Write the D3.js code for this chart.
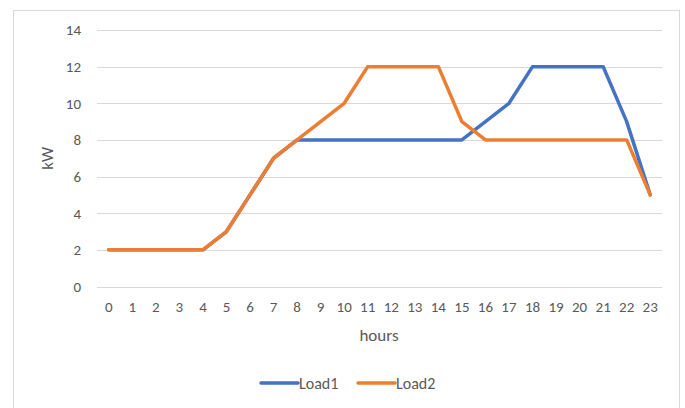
<!DOCTYPE html>
<html>
<head>
<meta charset="utf-8">
<script src="https://cdn.jsdelivr.net/npm/d3@7"></script>
<style>
  body { margin: 0; background: #fff; }
  text { font-family: Calibri, Carlito, "Noto Sans", sans-serif; fill: #595959; }
</style>
</head>
<body>
<div id="container"></div>
<script>
/* DATA */
const hours = d3.range(0, 24).map(String);
const load1 = [2, 2, 2, 2, 2, 3, 5, 7, 8, 8, 8, 8, 8, 8, 8, 8, 9, 10, 12, 12, 12, 12, 9, 5];
const load2 = [2, 2, 2, 2, 2, 3, 5, 7, 8, 9, 10, 12, 12, 12, 12, 9, 8, 8, 8, 8, 8, 8, 8, 5];
const yTicks = [0, 2, 4, 6, 8, 10, 12, 14];
const seriesNames = ["Load1", "Load2"];
const colors = ["#4472C4", "#ED7D31"];

/* CONSTANTS */
const width = 685, height = 408;
const margin = {top: 30, bottom: 122, left: 97, right: 23};
const fontFam = "Calibri, Carlito, 'Noto Sans', sans-serif";

const svg = d3.select("#container")
  .append("svg")
  .attr("width", width)
  .attr("height", height);

// chart frame
svg.append("rect")
  .attr("x", 13.5).attr("y", 10.5)
  .attr("width", 666).attr("height", 410)
  .attr("fill", "#fff")
  .attr("stroke", "#D9D9D9");

const xScale = d3.scaleBand()
  .domain(hours)
  .range([margin.left, width - margin.right]);

const yScale = d3.scaleLinear()
  .domain([0, 14])
  .range([286.5, margin.top]);

// gridlines
svg.append("g")
  .selectAll("line")
  .data(yTicks)
  .join("line")
  .attr("x1", margin.left)
  .attr("x2", width - margin.right)
  .attr("y1", d => Math.round(yScale(d)) + 0.5)
  .attr("y2", d => Math.round(yScale(d)) + 0.5)
  .attr("stroke", "#D9D9D9")
  .attr("stroke-width", 1);

// y axis labels
const yAxis = d3.axisLeft(yScale).tickValues(yTicks).tickSize(0).tickPadding(16);
svg.append("g")
  .attr("transform", `translate(${margin.left},0)`)
  .call(yAxis)
  .call(g => g.select(".domain").remove())
  .selectAll("text")
  .style("font-size", "15px")
  .attr("fill", "#595959")
  .style("font-family", fontFam);

// x axis labels
const xAxis = d3.axisBottom(xScale).tickSize(0).tickPadding(15);
svg.append("g")
  .attr("transform", `translate(0,${yScale(0)})`)
  .call(xAxis)
  .call(g => g.select(".domain").remove())
  .selectAll("text")
  .style("font-size", "15px")
  .attr("fill", "#595959")
  .style("font-family", fontFam);

// axis titles
svg.append("text")
  .attr("x", 379)
  .attr("y", 341)
  .attr("text-anchor", "middle")
  .style("font-size", "17px")
  .text("hours");

svg.append("text")
  .attr("transform", `translate(53,${(yScale(0) + yScale(14)) / 2}) rotate(-90)`)
  .attr("text-anchor", "middle")
  .style("font-size", "17px")
  .text("kW");

// lines
const line = d3.line()
  .x((d, i) => xScale(hours[i]) + xScale.bandwidth() / 2)
  .y(d => yScale(d));

[load1, load2].forEach((vals, i) => {
  svg.append("path")
    .datum(vals)
    .attr("fill", "none")
    .attr("stroke", colors[i])
    .attr("stroke-width", 3.5)
    .attr("stroke-linejoin", "round")
    .attr("stroke-linecap", "round")
    .attr("d", line);
});

// legend
const legend = svg.append("g");
const legendX = [261, 358];
seriesNames.forEach((name, i) => {
  legend.append("line")
    .attr("x1", legendX[i]).attr("x2", legendX[i] + 37)
    .attr("y1", 383).attr("y2", 383)
    .attr("stroke", colors[i])
    .attr("stroke-width", 3.5)
    .attr("stroke-linecap", "round");
  legend.append("text")
    .attr("x", legendX[i] + 38)
    .attr("y", 389)
    .style("font-size", "16px")
    .text(name);
});
</script>
</body>
</html>
